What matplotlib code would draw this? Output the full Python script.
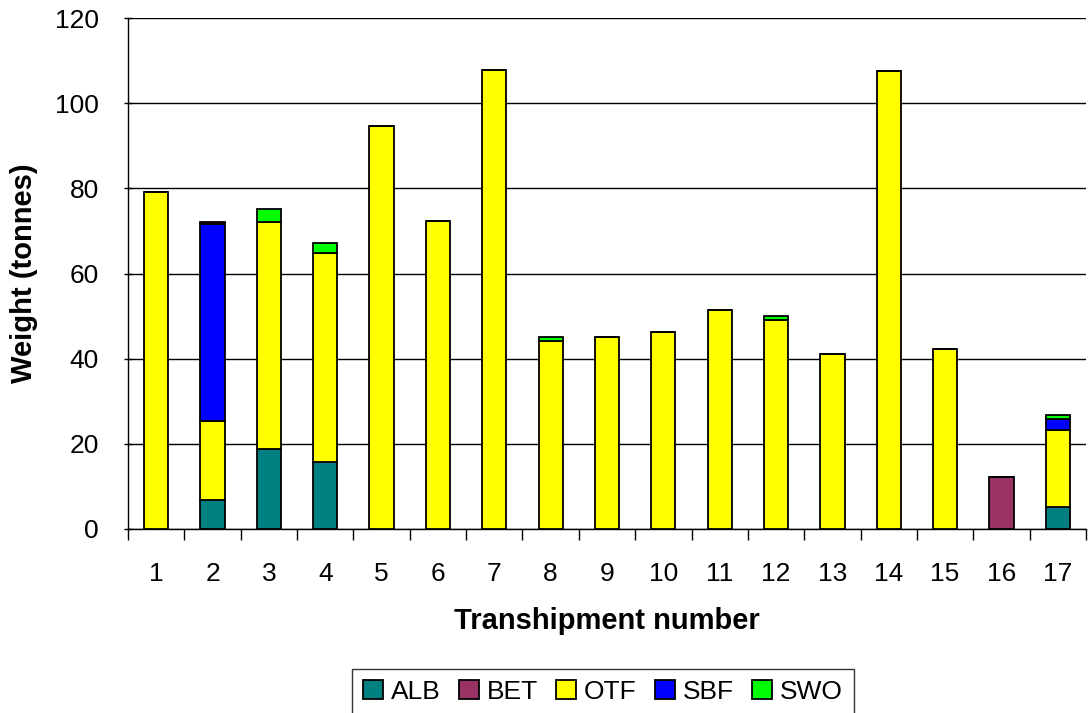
import numpy as np
import matplotlib.pyplot as plt

plt.rcParams['font.family'] = ['Liberation Sans', 'DejaVu Sans']

# transhipment numbers and catch by species (tonnes)
tranship = [str(i) for i in range(1, 18)]
alb = [0, 6.8, 18.8, 15.7, 0, 0, 0, 0, 0, 0, 0, 0, 0, 0, 0, 0, 5.2]
bet = [0, 0, 0, 0, 0, 0, 0, 0, 0, 0, 0, 0, 0, 0, 0, 12.1, 0]
otf = [79.2, 18.6, 53.4, 49.2, 94.6, 72.3, 107.8, 44.2, 45.2, 46.3, 51.5,
       49.1, 41.0, 107.5, 42.3, 0, 18.0]
sbf = [0, 46.2, 0, 0, 0, 0, 0, 0, 0, 0, 0, 0, 0, 0, 0, 0, 2.6]
swo = [0, 0, 3.0, 2.3, 0, 0, 0, 1.0, 0, 0, 0, 0.9, 0, 0, 0, 0, 1.0]
# tiny dark cap on bar 2
bet2 = [0, 0.6, 0, 0, 0, 0, 0, 0, 0, 0, 0, 0, 0, 0, 0, 0, 0]

species = ["ALB", "BET", "OTF", "SBF", "SWO"]
colors = ["#008080", "#993366", "#FFFF00", "#0000FF", "#00FF00"]

fig = plt.figure(figsize=(10.88, 7.13), dpi=100)
ax = fig.add_axes([128/1088, (713-529)/713, (1086-128)/1088, (529-18)/713])

x = np.arange(len(tranship))
w = 0.43
bottom = np.zeros(len(x))
for name, vals, col in zip(species, [alb, bet, otf, sbf, swo], colors):
    v = np.array(vals, dtype=float)
    ax.bar(x, v, w, bottom=bottom, color=col, edgecolor='black',
           linewidth=1.3, label=name, zorder=3)
    bottom += v
# small BET cap on top of the SBF bar
v = np.array(bet2)
mask = v > 0
ax.bar(x[mask], v[mask], w, bottom=bottom[mask], color=colors[1],
       edgecolor='black', linewidth=1.3, zorder=3)

ax.set_xlim(-0.5, len(x) - 0.5)
ax.set_ylim(0, 120)
ax.set_yticks(range(0, 121, 20))
ax.yaxis.grid(True, color='black', linewidth=1)
ax.set_axisbelow(True)

ax.set_xticks(x)
ax.set_xticklabels(tranship)
ax.set_xticks(np.arange(-0.5, len(x)), minor=True)
ax.tick_params(axis='x', which='major', length=0, labelsize=19, pad=24)
ax.tick_params(axis='x', which='minor', length=8, width=1, direction='out')
ax.tick_params(axis='y', length=6, width=1, direction='inout', labelsize=19, pad=18)

for s in ['top', 'right']:
    ax.spines[s].set_visible(False)
ax.spines['left'].set_linewidth(1)
ax.spines['bottom'].set_linewidth(1)

ax.set_xlabel("Transhipment number", fontsize=21, fontweight='bold', labelpad=15)
ax.set_ylabel("Weight (tonnes)", fontsize=21, fontweight='bold', labelpad=12)

handles, labels = ax.get_legend_handles_labels()
leg = fig.legend(handles, labels, loc='upper center', bbox_to_anchor=(603/1088, (713-669)/713),
                 ncol=5, fontsize=19, frameon=True, fancybox=False,
                 handlelength=0.75, handleheight=0.7, handletextpad=0.3,
                 columnspacing=0.7, borderpad=0.4, borderaxespad=0)
leg.get_frame().set_edgecolor('black')
leg.get_frame().set_linewidth(1)

fig.savefig("out.png", dpi=100)
